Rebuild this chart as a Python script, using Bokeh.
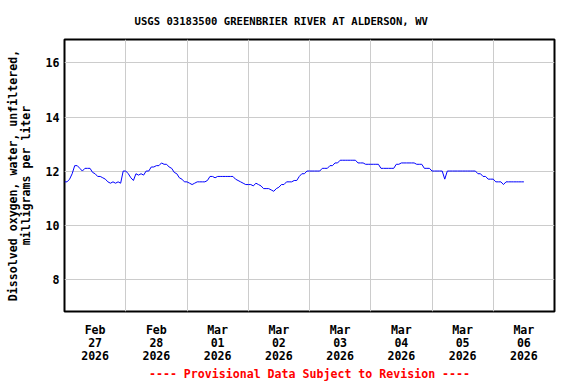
from bokeh.plotting import figure
from bokeh.models import Range1d, FixedTicker
from bokeh.embed import file_html
from bokeh.resources import INLINE

# Dissolved oxygen (mg/L), hourly readings starting Feb 27 2026 00:00
hours = list(range(0, 181))
do_values = [
    # Feb 27
    11.6, 11.6, 11.7, 11.9, 12.2, 12.2, 12.1, 12.0, 12.1, 12.1, 12.1, 11.95,
    11.9, 11.8, 11.8, 11.75, 11.7, 11.6, 11.55, 11.6, 11.55, 11.6, 11.55, 12.0,
    # Feb 28
    12.0, 11.9, 11.75, 11.65, 11.9, 11.85, 11.9, 11.85, 12.0, 12.0, 12.15, 12.15,
    12.2, 12.2, 12.3, 12.25, 12.25, 12.15, 12.1, 11.95, 11.9, 11.75, 11.7, 11.6,
    # Mar 01
    11.6, 11.55, 11.5, 11.55, 11.6, 11.6, 11.6, 11.6, 11.65, 11.8, 11.8, 11.75,
    11.8, 11.8, 11.8, 11.8, 11.8, 11.8, 11.8, 11.7, 11.65, 11.6, 11.55, 11.5,
    # Mar 02
    11.5, 11.5, 11.45, 11.55, 11.5, 11.45, 11.35, 11.35, 11.35, 11.3, 11.25, 11.35,
    11.4, 11.5, 11.5, 11.6, 11.6, 11.6, 11.65, 11.65, 11.8, 11.9, 11.9, 12.0,
    # Mar 03
    12.0, 12.0, 12.0, 12.0, 12.0, 12.1, 12.1, 12.1, 12.2, 12.2, 12.3, 12.3,
    12.4, 12.4, 12.4, 12.4, 12.4, 12.4, 12.4, 12.3, 12.3, 12.3, 12.25, 12.25,
    # Mar 04
    12.25, 12.25, 12.25, 12.25, 12.1, 12.1, 12.1, 12.1, 12.1, 12.1, 12.25, 12.25,
    12.3, 12.3, 12.3, 12.3, 12.3, 12.3, 12.25, 12.25, 12.25, 12.1, 12.1, 12.1,
    # Mar 05
    12.0, 12.0, 12.0, 12.0, 12.0, 11.7, 12.0, 12.0, 12.0, 12.0, 12.0, 12.0,
    12.0, 12.0, 12.0, 12.0, 12.0, 12.0, 11.9, 11.9, 11.8, 11.8, 11.7, 11.7,
    # Mar 06
    11.7, 11.6, 11.6, 11.6, 11.5, 11.6, 11.6, 11.6, 11.6, 11.6, 11.6, 11.6, 11.6,
]

tick_hours = [12, 36, 60, 84, 108, 132, 156, 180]
tick_labels = ["Feb\n27\n2026", "Feb\n28\n2026", "Mar\n01\n2026", "Mar\n02\n2026",
               "Mar\n03\n2026", "Mar\n04\n2026", "Mar\n05\n2026", "Mar\n06\n2026"]
grid_hours = [0, 24, 48, 72, 96, 120, 144, 168, 192]
y_ticks = [8, 10, 12, 14, 16]

FONT = "DejaVu Sans Mono"

p = figure(width=576, height=384, output_backend="svg", toolbar_location=None,
           x_range=Range1d(0, 192), y_range=Range1d(6.8, 16.87),
           min_border_left=64, min_border_right=22, min_border_top=39,
           min_border_bottom=68)

p.line(hours, do_values, line_color="#0000FF", line_width=1)

p.title.text = "USGS 03183500 GREENBRIER RIVER AT ALDERSON, WV"
p.title.align = "left"
p.title.offset = 70
p.title.text_font = FONT
p.title.text_font_style = "bold"
p.title.text_font_size = "10.6px"
p.title.text_color = "black"
p.title.standoff = 25

p.outline_line_color = "black"
p.outline_line_width = 2

p.xaxis.ticker = FixedTicker(ticks=tick_hours)
p.xaxis.major_label_overrides = {h: lab for h, lab in zip(tick_hours, tick_labels)}
p.xgrid.ticker = FixedTicker(ticks=grid_hours)
p.yaxis.ticker = FixedTicker(ticks=y_ticks)
p.ygrid.ticker = FixedTicker(ticks=y_ticks)

for g in (p.xgrid, p.ygrid):
    g.grid_line_color = "#CCCCCC"
    g.grid_line_width = 1

for ax in (p.xaxis, p.yaxis):
    ax.axis_line_color = None
    ax.major_tick_line_color = None
    ax.minor_tick_line_color = None
    ax.major_tick_out = 0
    ax.major_tick_in = 0
    ax.minor_tick_out = 0
    ax.minor_tick_in = 0
    ax.major_label_text_font = FONT
    ax.major_label_text_font_style = "bold"
    ax.major_label_text_font_size = "11.6px"
    ax.major_label_text_color = "black"
    ax.axis_label_text_font = FONT
    ax.axis_label_text_font_style = "bold"
    ax.axis_label_text_font_size = "11.6px"

p.xaxis.major_label_standoff = 11
p.xaxis.major_label_text_line_height = 0.95
p.xaxis.axis_label = "---- Provisional Data Subject to Revision ----"
p.xaxis.axis_label_text_color = "red"
p.xaxis.axis_label_standoff = 1
p.xaxis.axis_label_text_line_height = 1.0

p.yaxis.major_label_standoff = 5
p.yaxis.axis_label = "Dissolved oxygen, water, unfiltered,\nmilligrams per liter"
p.yaxis.axis_label_text_color = "black"
p.yaxis.axis_label_standoff = 10
p.yaxis.axis_label_text_line_height = 0.92

open("out.html", "w").write(file_html(p, INLINE))
